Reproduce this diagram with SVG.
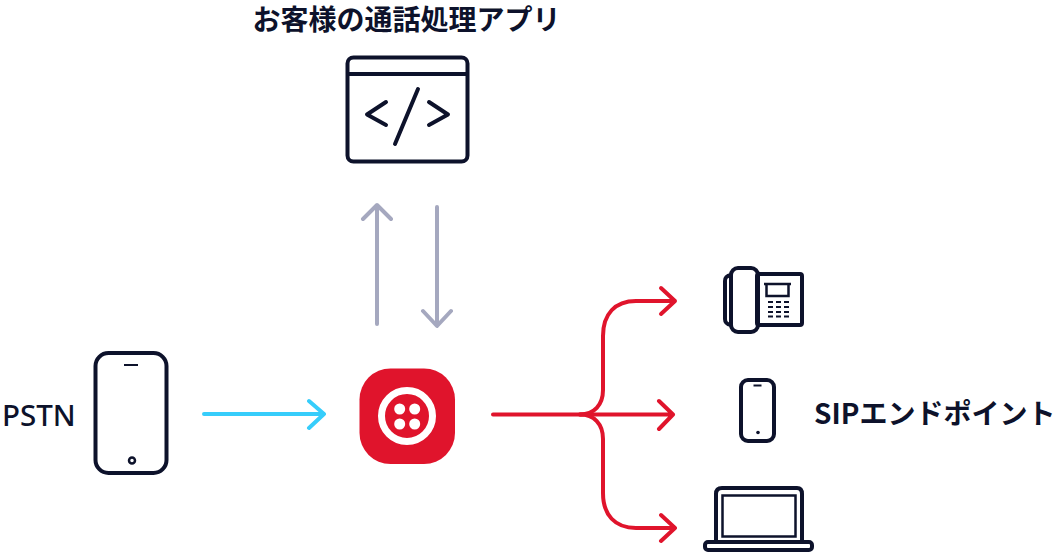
<svg xmlns="http://www.w3.org/2000/svg" width="1062" height="552" viewBox="0 0 1062 552">
<style>
.t{font-family:"Noto Sans CJK JP","Noto Sans",sans-serif;font-weight:700;font-size:28px;fill:#0d122b}
.l{font-family:"Noto Sans",sans-serif;font-weight:500;font-size:29.500px;fill:#0d122b}
.n{fill:none;stroke:#0d122b;stroke-width:4;stroke-linecap:round;stroke-linejoin:round}
.nf{fill:#0d122b}
.c{fill:none;stroke-width:4;stroke-linecap:round;stroke-linejoin:round}
.r{stroke:#e0142c}.b{stroke:#36cdfb}.g{stroke:#a5a8bf}
</style>
<rect width="1062" height="552" fill="#fff"/>
<g id="connectors">
<path class="c g" d="M377 324V206M363 219L377 205L391 219"/>
<path class="c g" d="M437 207V325M423 311L437 326L451 311"/>
<path class="c b" d="M204 414H323M309 401L324 414L309 428"/>
<path class="c r" d="M493 414.500H672M659 401L673 414.500L659 429"/>
<path class="c r" d="M580 414.500C594 414.500 603 405 603 390V336C603 314 615 301 636 301H675M661 288L675 301L661 314"/>
<path class="c r" d="M580 414.500C594 414.500 603 424 603 439V493C603 515 615 528 636 528H675M661 515L675 528L661 541"/>
</g>
<g id="app">
<text class="t" x="406.500" y="30" text-anchor="middle">お客様の通話処理アプリ</text>
<rect class="n" x="347.500" y="57.500" width="120" height="104" rx="6"/>
<path class="n" d="M348 74H467"/>
<path class="n" d="M386 102L367 114.500L386 125M429 102L448 114.500L429 125M418 89L395 144"/>
</g>
<g id="pstn">
<text class="l" x="2" y="426">PSTN</text>
<rect class="n" x="95.500" y="353" width="71" height="120" rx="13"/>
<path d="M124 365H138" fill="none" stroke="#0d122b" stroke-width="2"/>
<circle cx="132" cy="460.500" r="3" fill="none" stroke="#0d122b" stroke-width="2.500"/>
</g>
<g id="twilio">
<rect x="359.500" y="368.500" width="95.500" height="95.500" rx="31" fill="#e0142c"/>
<circle cx="407" cy="416" r="25.500" fill="none" stroke="#fff" stroke-width="7"/>
<circle cx="399.700" cy="409" r="5.500" fill="#fff"/>
<circle cx="414.700" cy="409" r="5.500" fill="#fff"/>
<circle cx="399.700" cy="424" r="5.500" fill="#fff"/>
<circle cx="414.700" cy="424" r="5.500" fill="#fff"/>
</g>
<g id="deskphone">
<rect class="n" x="757" y="274" width="45" height="51" rx="2"/>
<rect class="n" x="731" y="268" width="27" height="64" rx="7"/>
<path class="n" d="M731 275C726 276 725 278 725 281V319C725 322 726 324 731 325"/>
<path d="M764 284H791M766.500 284V296H788.500V284" fill="none" stroke="#0d122b" stroke-width="2.500"/>
<path d="M768 302H773M776 302H781M784 302H789M768 307H773M776 307H781M784 307H789M768 312H773M776 312H781M784 312H789M768 316.500H773M776 316.500H781M784 316.500H789" fill="none" stroke="#0d122b" stroke-width="2"/>
</g>
<g id="sipphone">
<rect class="n" x="741" y="380" width="33" height="61" rx="7"/>
<path d="M753.500 385.500H761.500" fill="none" stroke="#0d122b" stroke-width="2"/>
<circle class="nf" cx="758" cy="432.500" r="1.800"/>
<text class="t" x="814" y="424">SIPエンドポイント</text>
</g>
<g id="laptop">
<path class="n" d="M716 541V494Q716 488 722 488H797Q802 488 802 494V541"/>
<rect x="722.500" y="495.500" width="73" height="41" fill="none" stroke="#0d122b" stroke-width="2.500"/>
<rect class="n" x="705" y="542" width="107" height="8" rx="3"/>
</g>
</svg>
